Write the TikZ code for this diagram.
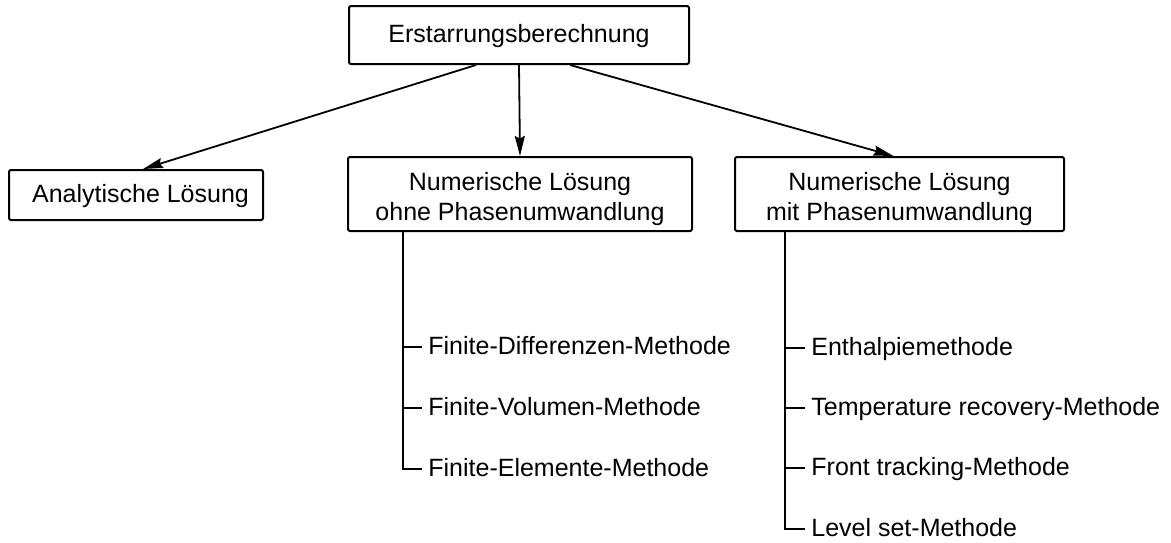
\documentclass[tikz,border=0pt]{standalone}
\usepackage{fontspec}
\setmainfont{Liberation Sans}
\usetikzlibrary{arrows.meta}
\begin{document}
\begin{tikzpicture}[x=0.5pt,y=-0.5pt,
  font=\fontsize{12.5pt}{15pt}\selectfont,
  box/.style={draw,line width=1pt,rounded corners=1pt,align=center,inner sep=0pt,text height=0.716em,text depth=0pt},
  box2/.style={box,text height=26pt,text depth=0pt},
  arr/.style={line width=0.9pt,-{Stealth[length=10pt,width=5pt,inset=1.2pt]}},
  leaf/.style={anchor=west,inner xsep=3pt,inner ysep=0pt,text height=0.716em,text depth=0pt},
  tree/.style={line width=0.8pt}]
\useasboundingbox (0,0) rectangle (1171,542);
\node[box,minimum width=170pt,minimum height=29pt] (top) at (519,35) {Erstarrungsberechnung};
\node[box,minimum width=127pt,minimum height=25pt] (ana) at (136,195) {\hspace*{4.5pt}Analytische Lösung};
\node[box2,minimum width=172pt,minimum height=37pt] (mid) at (520,194) {Numerische Lösung\\ohne Phasenumwandlung};
\node[box2,minimum width=164.5pt,minimum height=37pt] (rgt) at (899.5,194) {Numerische Lösung\\mit Phasenumwandlung};
\draw[arr] ([xshift=-21.5pt]top.south) -- ([xshift=3.5pt]ana.north);
\draw[arr] (top.south) -- (mid.north);
\draw[arr] ([xshift=25.5pt]top.south) -- ([xshift=-3pt]rgt.north);
% middle tree
\node[leaf] (fd) at (422,347) {Finite-Differenzen-Methode};
\node[leaf] (fv) at (422,408) {Finite-Volumen-Methode};
\node[leaf] (fe) at (422,469) {Finite-Elemente-Methode};
\coordinate (mt) at (403,231);
\draw[tree] (mt) |- (fe.west);
\draw[tree] (mt |- fd.west) -- (fd.west);
\draw[tree] (mt |- fv.west) -- (fv.west);
% right tree
\node[leaf] (en) at (805,348) {Enthalpiemethode};
\node[leaf] (tr) at (805,408) {Temperature recovery-Methode};
\node[leaf] (ft) at (805,468) {Front tracking-Methode};
\node[leaf] (ls) at (805,529) {Level set-Methode};
\coordinate (rt) at (785,231);
\draw[tree] (rt) |- (ls.west);
\draw[tree] (rt |- en.west) -- (en.west);
\draw[tree] (rt |- tr.west) -- (tr.west);
\draw[tree] (rt |- ft.west) -- (ft.west);
\end{tikzpicture}
\end{document}
